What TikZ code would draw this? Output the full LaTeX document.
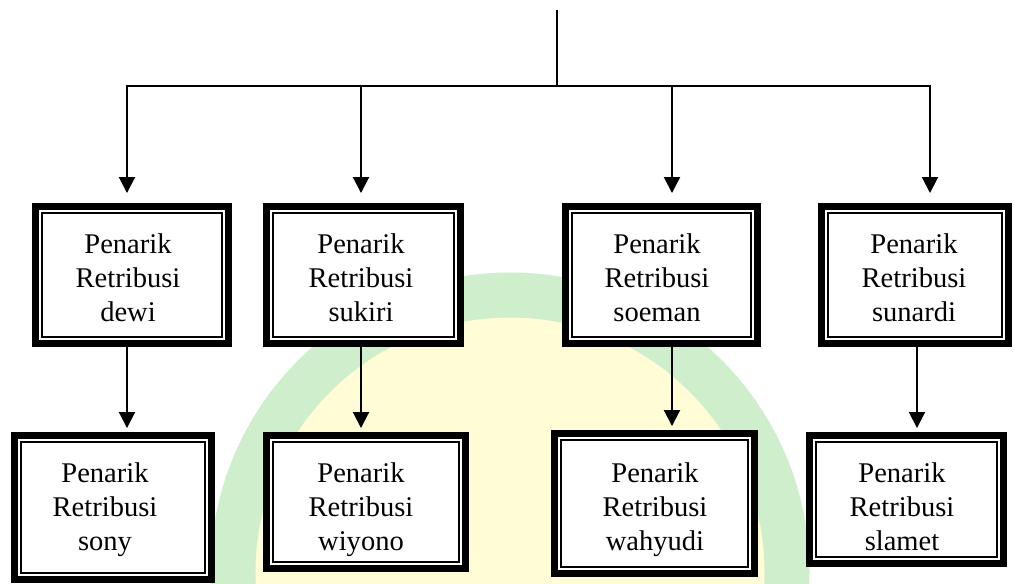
\documentclass[tikz,border=0pt]{standalone}
\usepackage{fontspec}
\setmainfont{Liberation Serif}
\usetikzlibrary{arrows.meta}
\definecolor{wmgreen}{RGB}{206,238,204}
\definecolor{wmyellow}{RGB}{255,252,214}
\begin{document}
\begin{tikzpicture}[x=0.75pt,y=-0.75pt,
  box/.style={draw, fill=white, line width=5.25pt, inner sep=0pt, outer sep=0pt},
  innerline/.style={line width=1.5pt},
  txt/.style={anchor=north, inner sep=0pt, align=center, font=\fontsize{21.4pt}{25.5pt}\selectfont},
  conn/.style={line width=1.5pt},
  arr/.style={conn, -{Triangle[width=12pt,length=12pt]}},
]
\useasboundingbox (0,0) rectangle (1014,584);

% faint background watermark
\begin{scope}
  \clip (0,0) rectangle (1014,584);
  \fill[wmyellow] (510,572) circle[radius=255*0.75pt];
  \draw[wmgreen, line width=33.75pt] (510,572) circle[radius=277*0.75pt];
\end{scope}

% boxes
\node[box, minimum width=144.75pt, minimum height=102.75pt] (T1) at (132,275) {};
\node[box, minimum width=145.5pt,  minimum height=102.75pt] (T2) at (363.5,275) {};
\node[box, minimum width=144pt,    minimum height=102.75pt] (T3) at (661.5,275) {};
\node[box, minimum width=140.25pt, minimum height=102.75pt] (T4) at (915,275) {};
\node[box, minimum width=147.75pt, minimum height=108pt]   (B1) at (113,507.5) {};
\node[box, minimum width=149.25pt, minimum height=99.75pt] (B2) at (366,502) {};
\node[box, minimum width=150pt,    minimum height=105pt]   (B3) at (654.5,503.5) {};
\node[box, minimum width=145.5pt,  minimum height=96pt]    (B4) at (906.5,499.5) {};

\foreach \n in {T1,T2,T3,T4,B1,B2,B3,B4}
  \draw[innerline] ([shift={(5pt,-5pt)}]\n.north west) rectangle ([shift={(-5pt,5pt)}]\n.south east);

% texts
\node[txt] (t1) at (128,233.5) {Penarik\\Retribusi\\dewi};
\node[txt] (t2) at (361,233.5) {Penarik\\Retribusi\\sukiri};
\node[txt] (t3) at (657,233.5) {Penarik\\Retribusi\\soeman};
\node[txt] (t4) at (914,233.5) {Penarik\\Retribusi\\sunardi};
\node[txt] (b1) at (105,462.5) {Penarik\\Retribusi\\sony};
\node[txt] (b2) at (361,462.5) {Penarik\\Retribusi\\wiyono};
\node[txt] (b3) at (655,462.5) {Penarik\\Retribusi\\wahyudi};
\node[txt] (b4) at (902,462.5) {Penarik\\Retribusi\\slamet};

% connector coordinates
\coordinate (topend) at (557,10);
\coordinate (bus) at (557,86);
\coordinate (c1) at (127,0);
\coordinate (c2) at (361,0);
\coordinate (c3) at (672,0);
\coordinate (c4) at (930,0);
\coordinate (d4) at (917,0);

\draw[conn] (topend) -- (bus);
\draw[arr, shorten >=10.1pt] (bus) -| (T1.north -| c1);
\draw[arr, shorten >=10.1pt] (bus) -| (T4.north -| c4);
\draw[arr, shorten >=10.1pt] (bus -| c2) -- (T2.north -| c2);
\draw[arr, shorten >=10.1pt] (bus -| c3) -- (T3.north -| c3);

\draw[arr, shorten >=5.6pt] (T1.south -| c1) -- (B1.north -| c1);
\draw[arr, shorten >=5.6pt] (T2.south -| c2) -- (B2.north -| c2);
\draw[arr, shorten >=5.6pt] (T3.south -| c3) -- (B3.north -| c3);
\draw[arr, shorten >=5.6pt] (T4.south -| d4) -- (B4.north -| d4);
\end{tikzpicture}
\end{document}
